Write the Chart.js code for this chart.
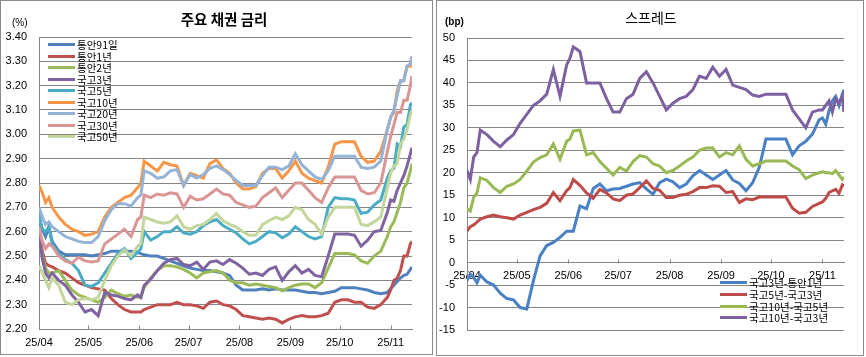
<!DOCTYPE html>
<html><head><meta charset="utf-8">
<script src="https://cdn.jsdelivr.net/npm/chart.js@4.4.1/dist/chart.umd.min.js"></script>
<style>
html,body{margin:0;padding:0;background:#fff;}
body{width:866px;height:357px;position:relative;overflow:hidden;font-family:"Noto Sans CJK KR","Noto Sans",sans-serif;color:#000;}
.frame{position:absolute;border:1px solid #8c8c8c;box-sizing:border-box;}
canvas{position:absolute;top:0;}
.title{position:absolute;white-space:nowrap;transform:translateX(-50%);line-height:16px;}
.unit{position:absolute;font-family:"Liberation Sans",sans-serif;font-size:10px;line-height:12px;}
.legend{position:absolute;font-size:10.5px;}
.legend .row{display:flex;align-items:center;white-space:nowrap;}
.legend .sw{display:inline-block;width:27px;height:3px;margin-right:2px;flex:none;}
</style></head>
<body>
<div class="frame" style="left:0;top:0;width:433px;height:355px;"></div>
<div class="frame" style="left:436px;top:0;width:428px;height:356px;"></div>
<canvas id="c1" width="432" height="357" style="left:0;width:432px;height:357px;"></canvas>
<canvas id="c2" width="430" height="357" style="left:436px;width:430px;height:357px;"></canvas>
<div class="title" style="left:224px;top:11px;font-size:14.5px;font-weight:bold;">주요 채권 금리</div>
<div class="title" style="left:651px;top:9px;font-size:14px;">스프레드</div>
<div class="unit" style="left:12px;top:17px;">(%)</div>
<div class="unit" style="left:445px;top:16px;font-weight:bold;">(bp)</div>
<div class="legend" id="lg1" style="left:48px;top:39px;"></div>
<div class="legend" id="lg2" style="left:720px;top:277px;"></div>
<script>
// ---- data ----
const days = [0,2,4,6,8, 12,16,20,24,28, 32,36,40,44,48, 52,56,60,62,64, 68,72,76,80,84, 88,92,96,100,104, 108,112,116,120,124, 128,132,136,140,144, 148,152,156,160,164, 168,172,176,180,184, 188,192,196,200,204, 208,212,214,216,218, 220,222,224,226,227];
const monthDays = [0,30,61,91,122,153,183,214];
const monthLabels = ['25/04','25/05','25/06','25/07','25/08','25/09','25/10','25/11'];
const leftYTicks = [2.2,2.3,2.4,2.5,2.6,2.7,2.8,2.9,3.0,3.1,3.2,3.3,3.4];
const rightYTicks = [-15,-10,-5,0,5,10,15,20,25,30,35,40,45,50];

const leftNames = ['통안91일','통안1년','통안2년','국고3년','국고5년','국고10년','국고20년','국고30년','국고50년'];
const msb91 = [2.65,2.61,2.58,2.62,2.56, 2.52,2.505,2.505,2.505,2.505, 2.50,2.505,2.51,2.52,2.52, 2.52,2.52,2.515,2.51,2.505, 2.50,2.50,2.49,2.48,2.47, 2.46,2.45,2.445,2.44,2.44, 2.435,2.43,2.42,2.38,2.36, 2.36,2.36,2.365,2.36,2.365, 2.36,2.36,2.36,2.355,2.35, 2.35,2.345,2.35,2.355,2.37, 2.37,2.37,2.365,2.36,2.35, 2.345,2.35,2.365,2.38,2.395, 2.41,2.42,2.425,2.445,2.455];
const msb1 = [2.61,2.52,2.47,2.46,2.455, 2.44,2.43,2.41,2.39,2.38, 2.37,2.365,2.36,2.325,2.30, 2.28,2.27,2.27,2.27,2.28, 2.29,2.30,2.30,2.30,2.31, 2.30,2.30,2.295,2.285,2.31, 2.315,2.30,2.295,2.28,2.255, 2.25,2.245,2.24,2.245,2.24, 2.225,2.24,2.25,2.255,2.25, 2.25,2.255,2.265,2.31,2.32, 2.32,2.31,2.31,2.29,2.285, 2.30,2.33,2.36,2.40,2.41, 2.44,2.50,2.50,2.55,2.56];
const msb2 = [2.60,2.50,2.45,2.43,2.43, 2.44,2.40,2.36,2.34,2.33, 2.32,2.31,2.33,2.36,2.345, 2.335,2.34,2.33,2.33,2.37, 2.41,2.44,2.46,2.46,2.455, 2.445,2.43,2.41,2.43,2.435, 2.44,2.43,2.40,2.39,2.39, 2.38,2.385,2.38,2.375,2.37, 2.357,2.37,2.38,2.385,2.385, 2.37,2.39,2.45,2.51,2.51, 2.51,2.505,2.48,2.47,2.50, 2.52,2.58,2.62,2.64,2.68, 2.72,2.78,2.80,2.85,2.88];
const ktb3 = [2.59,2.49,2.43,2.41,2.43, 2.40,2.38,2.34,2.31,2.27, 2.28,2.255,2.35,2.34,2.335, 2.325,2.32,2.34,2.33,2.38, 2.405,2.44,2.47,2.485,2.49, 2.465,2.46,2.475,2.445,2.475, 2.48,2.465,2.485,2.47,2.45, 2.425,2.43,2.42,2.445,2.455, 2.40,2.435,2.46,2.43,2.445, 2.42,2.415,2.50,2.59,2.59, 2.59,2.585,2.54,2.565,2.60, 2.605,2.68,2.73,2.725,2.77, 2.80,2.83,2.87,2.92,2.945];
const ktb5 = [2.67,2.61,2.60,2.62,2.55, 2.51,2.485,2.47,2.44,2.38, 2.375,2.39,2.43,2.47,2.51, 2.53,2.49,2.515,2.53,2.60, 2.565,2.58,2.60,2.60,2.62, 2.595,2.59,2.60,2.625,2.64, 2.65,2.625,2.61,2.595,2.57, 2.55,2.56,2.58,2.60,2.595, 2.575,2.59,2.62,2.60,2.58, 2.57,2.58,2.70,2.74,2.735, 2.735,2.73,2.675,2.68,2.71, 2.73,2.82,2.85,2.86,2.96, 2.95,3.03,3.04,3.12,3.13];
const ktb10 = [2.79,2.76,2.72,2.74,2.70, 2.66,2.63,2.61,2.60,2.585, 2.59,2.60,2.66,2.70,2.72, 2.74,2.75,2.78,2.80,2.89, 2.87,2.85,2.885,2.875,2.87, 2.79,2.84,2.83,2.82,2.88, 2.895,2.86,2.84,2.80,2.776, 2.775,2.785,2.84,2.86,2.86, 2.82,2.85,2.89,2.84,2.82, 2.81,2.80,2.865,2.96,2.97, 2.97,2.97,2.91,2.885,2.89, 2.93,3.02,3.07,3.09,3.18, 3.22,3.22,3.28,3.28,3.32];
const ktb20 = [2.70,2.66,2.63,2.64,2.62, 2.60,2.58,2.57,2.56,2.555, 2.555,2.58,2.645,2.69,2.715, 2.715,2.705,2.74,2.75,2.85, 2.84,2.82,2.825,2.85,2.855, 2.79,2.835,2.82,2.835,2.86, 2.87,2.855,2.835,2.81,2.79, 2.79,2.79,2.83,2.865,2.865, 2.855,2.87,2.92,2.875,2.85, 2.825,2.815,2.85,2.91,2.91, 2.91,2.91,2.865,2.86,2.865, 2.89,3.02,3.07,3.10,3.16, 3.22,3.22,3.28,3.29,3.32];
const ktb30 = [2.62,2.56,2.53,2.55,2.54, 2.50,2.48,2.47,2.495,2.48, 2.475,2.48,2.55,2.57,2.59, 2.61,2.58,2.65,2.66,2.75, 2.74,2.755,2.75,2.76,2.755, 2.70,2.745,2.73,2.735,2.755, 2.775,2.755,2.75,2.72,2.71, 2.70,2.705,2.74,2.76,2.78, 2.74,2.77,2.80,2.80,2.77, 2.74,2.72,2.78,2.825,2.825, 2.825,2.825,2.77,2.755,2.76, 2.80,2.93,2.99,3.04,3.09, 3.09,3.14,3.14,3.20,3.24];
const ktb50 = [2.46,2.43,2.40,2.37,2.41, 2.38,2.31,2.30,2.32,2.325, 2.32,2.33,2.40,2.46,2.50, 2.525,2.50,2.54,2.55,2.66, 2.65,2.64,2.635,2.64,2.665, 2.62,2.61,2.625,2.63,2.65, 2.675,2.645,2.63,2.62,2.60, 2.585,2.585,2.63,2.645,2.66, 2.65,2.665,2.70,2.69,2.65, 2.63,2.59,2.66,2.70,2.70, 2.70,2.70,2.63,2.625,2.64, 2.66,2.78,2.84,2.87,2.88, 2.96,2.98,3.02,3.08,3.10];
const leftColors = ['#4F81BD','#C0504D','#9BBB59','#8064A2','#4BACC6','#F79646','#95B3D7','#D99694','#C3D69B'];

const rightNames = ['국고3년-통안1년','국고5년-국고3년','국고10년-국고5년','국고10년-국고3년'];
const sp3y1y = [-4,-2.6,-3.3,-4.5,-2.8, -4.3,-5,-6.8,-8,-8.3, -10,-10.3,-4,1.5,3.8, 4.5,5.6,7,7,7, 12.6,12,16.5,17.5,16, 16.4,16.5,17,17.5,17.8, 16.4,15.2,17.8,18.6,18, 16.7,17.5,19.3,20.5,19.5, 18.5,19.5,20.5,18.4,17.6, 16,17.8,21.2,27.5,27.5, 27.5,27.5,24,26,27, 28.6,31.8,32.2,30.8,33.8, 36,37,35,37.5,38.5];
const sp5y3y = [7,8,8.4,9,9.7, 10.2,10.6,10.2,10,9.7, 10.6,11.2,11.8,12.3,13.2, 15.6,13.8,16,16.7,18.5, 17.2,15.5,14.3,16.3,15.5, 14.2,13.8,15,15.3,16.7, 18.2,16.5,16.1,14.5,14.5, 15,15.2,15.8,16.7,16.7, 17.1,17,15.6,15.8,13.4, 14.2,14,14.6,14.6,14.6, 14.6,14.6,12.1,11,11.2, 12.5,13.2,13.5,14.3,15.6, 16,16.3,15.4,17.3,17];
const sp10y5y = [12,11.5,14.5,15.5,18.9, 18.3,16.7,15.6,17,17.5, 18.5,20.4,22.4,23.4,24, 26.4,23,27,27.5,29.3, 29.5,24,24.5,22.5,21, 19.5,21.2,20.4,22.5,23.8, 23.5,22,21.5,20,20.5, 21.5,22.6,23.5,25,25.5, 25.5,23.5,24.5,24,26, 23,21.5,22,22.6,22.6, 22.6,22.6,21.5,20.7,18.7, 19.5,20,20.2,20,20, 19.8,20.5,19.5,18.5,19];
const sp10y3y = [20.5,18.5,23.5,24.5,29.5, 28.5,27,25.8,27.3,28.5, 31,33,35,36,37.5, 43,37,44,45.5,48, 47,40,40,40,36.5, 33.5,33.5,36.5,37.5,41, 42.5,40,37,34,35.5, 36.5,37,38.5,41.5,41, 43.5,41.5,43,39.5,39, 38.5,37.3,37,37.5,37.5, 37.5,37.5,34,32,30, 33.5,34,34,35,36, 33.5,36.5,35.5,37,33.5];
const rightColors = ['#4A80C4','#BE4B48','#98B954','#7D60A0'];

// ---- build ----
const leftSeries = [msb91,msb1,msb2,ktb3,ktb5,ktb10,ktb20,ktb30,ktb50];
const rightSeries = [sp3y1y,sp5y3y,sp10y5y,sp10y3y];
const GRID = '#868686';
Chart.defaults.font.family = '"Liberation Sans", Arial, sans-serif';
Chart.defaults.color = '#000';

function mkDatasets(names, series, colors){
  const n = names.length;
  return names.map((nm,i)=>({
    label: nm,
    data: days.map((d,k)=>({x:d, y:series[i][k]})),
    borderColor: colors[i],
    backgroundColor: colors[i],
    borderWidth: 3,
    pointRadius: 0,
    tension: 0,
    fill: false,
    order: n - 1 - i
  }));
}

const monthTickMarks = {
  id: 'monthTickMarks',
  afterDatasetsDraw(chart, args, opts){
    const {ctx} = chart; const xs = chart.scales.x, ys = chart.scales.y;
    const y0 = Math.round(ys.getPixelForValue(opts.base)) + 0.5;
    ctx.save(); ctx.strokeStyle = GRID; ctx.lineWidth = 1;
    monthDays.forEach(d=>{
      const px = Math.round(xs.getPixelForValue(d)) + 0.5;
      ctx.beginPath(); ctx.moveTo(px, y0); ctx.lineTo(px, y0 - 4); ctx.stroke();
    });
    ctx.restore();
  }
};

function xAxis(extra){
  return Object.assign({
    type: 'linear', min: 0, max: 227,
    afterBuildTicks: s => { s.ticks = monthDays.map(v=>({value:v})); },
    ticks: { autoSkip:false, maxRotation:0, minRotation:0, padding:7, font:{size:11},
      callback: v => monthLabels[monthDays.indexOf(v)] },
    grid: { drawOnChartArea:false, drawTicks:false, color: GRID },
    border: { display:true, color: GRID, width:1 }
  }, extra);
}

new Chart(document.getElementById('c1'), {
  type: 'line',
  data: { datasets: mkDatasets(leftNames, leftSeries, leftColors) },
  options: {
    responsive:false, animation:false, devicePixelRatio:1,
    layout: { padding: { top:37, right:20, bottom:0, left:0 } },
    plugins: { legend:{display:false}, tooltip:{enabled:false}, monthTickMarks:{base:2.2} },
    scales: {
      x: xAxis({ position:'bottom', afterFit: s => { s.height = 28; } }),
      y: {
        min: 2.2, max: 3.4,
        afterBuildTicks: s => { s.ticks = leftYTicks.map(v=>({value:v})); },
        afterFit: s => { s.width = 39; },
        ticks: { padding:12, font:{size:11}, callback: v => Number(v).toFixed(2) },
        grid: { color: GRID, lineWidth:1, drawTicks:false },
        border: { display:true, color: GRID }
      }
    }
  },
  plugins: [monthTickMarks]
});

new Chart(document.getElementById('c2'), {
  type: 'line',
  data: { datasets: mkDatasets(rightNames, rightSeries, rightColors) },
  options: {
    responsive:false, animation:false, devicePixelRatio:1,
    layout: { padding: { top:38, right:22, bottom:27, left:0 } },
    plugins: { legend:{display:false}, tooltip:{enabled:false}, monthTickMarks:{base:0} },
    scales: {
      x: xAxis({ position:{y:0} }),
      y: {
        min: -15, max: 50,
        afterBuildTicks: s => { s.ticks = rightYTicks.map(v=>({value:v})); },
        afterFit: s => { s.width = 31; },
        ticks: { padding:12, font:{size:11}, callback: v => String(v) },
        grid: { color: GRID, lineWidth:1, drawTicks:false },
        border: { display:true, color: GRID }
      }
    }
  },
  plugins: [monthTickMarks]
});

// ---- HTML legends ----
function buildLegend(id, names, colors, rowH){
  const el = document.getElementById(id);
  names.forEach((nm,i)=>{
    const r = document.createElement('div'); r.className='row'; r.style.height = rowH+'px';
    const sw = document.createElement('span'); sw.className='sw'; sw.style.background = colors[i];
    const t = document.createElement('span'); t.textContent = nm;
    r.appendChild(sw); r.appendChild(t); el.appendChild(r);
  });
}
buildLegend('lg1', leftNames, leftColors, 11.5);
buildLegend('lg2', rightNames, rightColors, 11.7);
</script>
</body></html>
